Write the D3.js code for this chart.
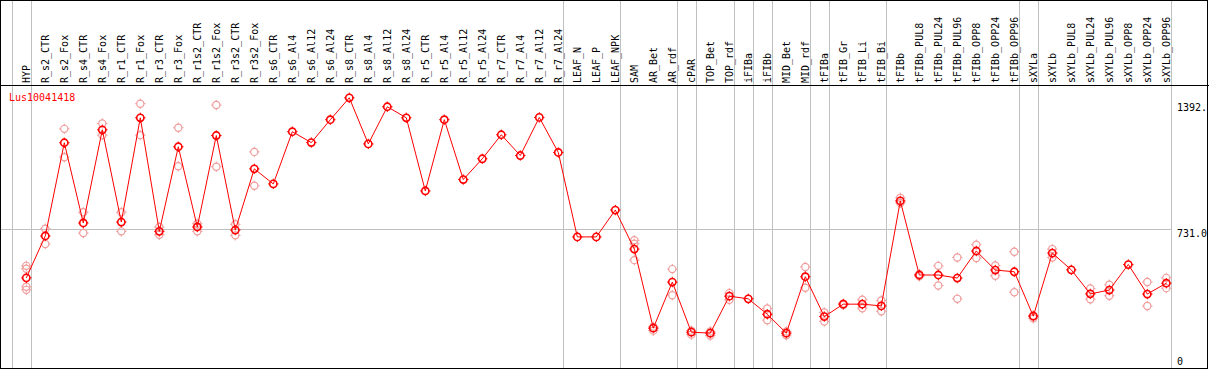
<!DOCTYPE html>
<html lang="en">
<head>
    <meta charset="UTF-8">
    <title>Lus10041418</title>
    <script src="https://cdn.jsdelivr.net/npm/d3@7"></script>
    <style>
        body { margin: 0; background: #fff; }
        svg text { font-family: "DejaVu Sans Mono", monospace; font-size: 10px; }
    </style>
</head>
<body>
<svg id="chart"></svg>

<script>
    const categories = ["HYP", "R_s2_CTR", "R_s2_Fox", "R_s4_CTR", "R_s4_Fox", "R_r1_CTR", "R_r1_Fox", "R_r3_CTR", "R_r3_Fox",
        "R_r1s2_CTR", "R_r1s2_Fox", "R_r3s2_CTR", "R_r3s2_Fox", "R_s6_CTR", "R_s6_Al4", "R_s6_Al12", "R_s6_Al24",
        "R_s8_CTR", "R_s8_Al4", "R_s8_Al12", "R_s8_Al24", "R_r5_CTR", "R_r5_Al4", "R_r5_Al12", "R_r5_Al24",
        "R_r7_CTR", "R_r7_Al4", "R_r7_Al12", "R_r7_Al24", "LEAF_N", "LEAF_P", "LEAF_NPK", "SAM", "AR_Bet", "AR_rdf",
        "cPAR", "TOP_Bet", "TOP_rdf", "iFIBa", "iFIBb", "MID_Bet", "MID_rdf", "tFIBa", "tFIB_Gr", "tFIB_Li", "tFIB_Bi",
        "tFIBb", "tFIBb_PUL8", "tFIBb_PUL24", "tFIBb_PUL96", "tFIBb_OPP8", "tFIBb_OPP24", "tFIBb_OPP96",
        "sXYLa", "sXYLb", "sXYLb_PUL8", "sXYLb_PUL24", "sXYLb_PUL96", "sXYLb_OPP8", "sXYLb_OPP24", "sXYLb_OPP96"];

    // mean value for each sample
    const means = [473, 693, 1182, 761, 1250, 766, 1313, 717, 1161, 740, 1220, 724, 1045,
        966, 1240, 1183, 1303, 1418, 1176, 1371, 1313, 929, 1303, 989, 1098, 1224, 1115, 1315, 1131,
        688, 688, 829, 624, 209, 451, 188, 183, 377, 363, 282, 183, 479, 270, 335, 335, 326,
        877, 488, 488, 472, 614, 514, 505, 272, 603, 515, 389, 409, 543, 388, 445];

    // replicate values (light circles)
    const replicates = [[536, 521, 426, 410], [731, 651], [1255, 1106], [817, 708], [1283, 1222], [817, 717],
        [1387, 1222], [740, 699], [1261, 1059], [757, 717], [1380, 1056], [754, 696], [1134, 956],
        [], [], [], [], [], [], [], [], [], [], [], [], [], [], [], [], [], [], [],
        [670, 652, 566], [216, 196], [519, 382], [196, 175], [192, 170], [393, 358], [], [312, 251],
        [192, 172], [530, 421], [291, 244], [338, 331], [358, 314], [354, 298],
        [893, 866], [492, 481], [536, 433], [580, 363], [647, 577], [538, 484], [610, 398],
        [276, 261], [624, 580], [], [417, 361], [437, 379], [], [451, 325], [473, 419]];

    // vertical separators drawn after these samples
    const separators = ["HYP", "R_r7_Al24", "LEAF_NPK", "AR_rdf", "cPAR", "TOP_rdf", "iFIBa", "iFIBb",
        "MID_rdf", "tFIBa", "tFIB_Bi", "tFIBb_OPP96", "sXYLa", "sXYLb_OPP96"];

    const yTicks = [0, 731.0, 1392];
    const yTickLabels = ["0", "731.0", "1392."];
    const geneId = "Lus10041418";

    const W = 1209, H = 370;
    const plotTop = 86, plotBottom = 368;

    const svg = d3.select("#chart").attr("width", W).attr("height", H);

    const x = d3.scalePoint().domain(categories).range([26.3, 1166.3]);
    const y = d3.scaleLinear().domain([0, 731]).range([plotBottom, 228.7]);

    const snap = v => Math.round(v) + 0.5;

    // vertical grid lines
    const sepX = [x(categories[0]) - 14.5].concat(separators.map(s => x(s) + 4.5));
    svg.append("g")
        .selectAll("line")
        .data(sepX)
        .enter().append("line")
        .attr("x1", d => snap(d)).attr("x2", d => snap(d))
        .attr("y1", 0).attr("y2", plotBottom)
        .attr("stroke", "#c0c0c0").attr("stroke-width", 1);

    // horizontal grid line at middle tick
    svg.append("line")
        .attr("x1", 0).attr("x2", snap(x(categories[categories.length - 1]) + 4.5))
        .attr("y1", snap(y(yTicks[1]))).attr("y2", snap(y(yTicks[1])))
        .attr("stroke", "#c0c0c0");

    // frame
    svg.append("rect")
        .attr("x", 0.5).attr("y", 0.5).attr("width", W - 2).attr("height", plotBottom)
        .attr("fill", "none").attr("stroke", "#000");
    svg.append("line")
        .attr("x1", 0).attr("x2", W).attr("y1", plotTop - 0.5).attr("y2", plotTop - 0.5)
        .attr("stroke", "#000");

    // sample labels (vertical)
    svg.append("g")
        .selectAll("text")
        .data(categories)
        .enter().append("text")
        .attr("transform", d => "translate(" + (x(d) + 4) + "," + 83 + ") rotate(-90)")
        .attr("fill", "#000")
        .text(d => d);

    // right axis labels
    svg.append("g")
        .selectAll("text")
        .data(yTicks)
        .enter().append("text")
        .attr("x", 1177)
        .attr("y", d => Math.min(y(d) + 8, 365))
        .attr("fill", "#000")
        .text((d, i) => yTickLabels[i]);

    // gene id
    svg.append("text")
        .attr("x", 9).attr("y", 101)
        .attr("fill", "#ff0000")
        .text(geneId);

    function marker(g, cx, cy, color, width) {
        g.append("circle").attr("cx", cx).attr("cy", cy).attr("r", 3.6)
            .attr("fill", "none").attr("stroke", color).attr("stroke-width", width);
        g.append("path")
            .attr("d", "M" + cx + "," + (cy - 5.2) + "v1.6M" + cx + "," + (cy + 3.6) + "v1.6M" +
                (cx - 5.2) + "," + cy + "h1.6M" + (cx + 3.6) + "," + cy + "h1.6")
            .attr("stroke", color).attr("stroke-width", 1);
    }

    // replicate markers
    const repG = svg.append("g");
    replicates.forEach((reps, i) => {
        reps.forEach(v => marker(repG, x(categories[i]), y(v), "#f09c9c", 1.2));
    });

    // mean line
    svg.append("path")
        .datum(means)
        .attr("fill", "none")
        .attr("stroke", "#ff0000")
        .attr("stroke-width", 1)
        .attr("d", d3.line().x((d, i) => x(categories[i])).y(d => y(d)));

    // mean markers
    const meanG = svg.append("g");
    means.forEach((v, i) => marker(meanG, x(categories[i]), y(v), "#ff0000", 1.6));
</script>
</body>
</html>
